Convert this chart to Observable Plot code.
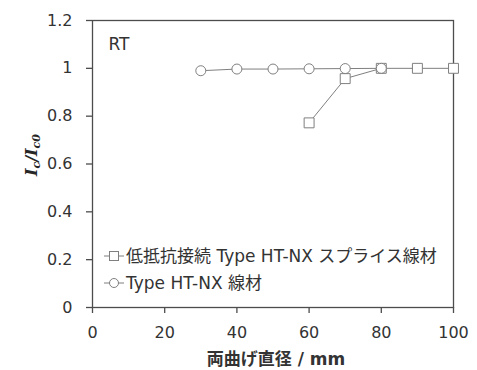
<!DOCTYPE html>
<html>
<head>
<meta charset="utf-8">
<script src="https://cdn.jsdelivr.net/npm/d3@7"></script>
<script src="https://cdn.jsdelivr.net/npm/@observablehq/plot@0.6"></script>
<style>
  html, body { margin: 0; padding: 0; background: #fff; }
  #chart { width: 477px; height: 370px; }
</style>
</head>
<body>
<div id="chart"></div>
<script>
// ---- data ----
const spliceDiam = [60, 70, 80, 90, 100];
const spliceIc = [0.772, 0.957, 1.0, 1.0, 1.0];
const wireDiam = [30, 40, 50, 60, 70, 80];
const wireIc = [0.99, 0.997, 0.997, 0.998, 0.999, 1.0];
const xTicks = [0, 20, 40, 60, 80, 100];
const yTicks = [0, 0.2, 0.4, 0.6, 0.8, 1, 1.2];
const seriesNames = ["低抵抗接続 Type HT-NX スプライス線材", "Type HT-NX 線材"];
const xTitle = "両曲げ直径 / mm";
const annotation = "RT";

const splice = spliceDiam.map((d, i) => ({x: d, y: spliceIc[i]}));
const wire = wireDiam.map((d, i) => ({x: d, y: wireIc[i]}));

const grey = "#7f7f7f";
const axisCol = "#4d4d4d";
const textCol = "#333333";
const font = "DejaVu Sans, Noto Sans CJK JP, sans-serif";

const plot = Plot.plot({
  width: 477,
  height: 370,
  marginLeft: 92,
  marginRight: 24,
  marginTop: 20,
  marginBottom: 63,
  x: {domain: [0, 100]},
  y: {domain: [0, 1.2]},
  style: {fontFamily: font, fontSize: "16px", color: textCol, background: "#fff"},
  marks: [
    Plot.frame({stroke: axisCol, strokeWidth: 1.3}),
    Plot.axisX({ticks: xTicks, tickSize: 6, tickPadding: 13, label: null, stroke: axisCol, strokeWidth: 1.3, fontSize: 16, fontFamily: font}),
    Plot.axisY({ticks: yTicks, tickSize: 6, tickPadding: 14, label: null, stroke: axisCol, strokeWidth: 1.3, fontSize: 16, fontFamily: font, tickFormat: d => String(d)}),
    Plot.lineY(splice, {x: "x", y: "y", stroke: grey, strokeWidth: 1}),
    Plot.dot(splice, {x: "x", y: "y", symbol: "square", r: 5.6, stroke: grey, fill: "#fff", strokeWidth: 1}),
    Plot.lineY(wire, {x: "x", y: "y", stroke: grey, strokeWidth: 1}),
    Plot.dot(wire, {x: "x", y: "y", symbol: "circle", r: 5, stroke: grey, fill: "#fff", strokeWidth: 1}),
    Plot.text([annotation], {frameAnchor: "top-left", lineAnchor: "middle", dx: 16, dy: 24, text: d => d, fontSize: 17, fontFamily: font, fill: textCol, textAnchor: "start"}),
    Plot.text([xTitle], {frameAnchor: "bottom", lineAnchor: "bottom", dx: 3, dy: 57, text: d => d, fontSize: 17, fontFamily: font, fontWeight: "bold", fill: textCol})
  ]
});
document.getElementById("chart").appendChild(plot);

// legend and y-axis title (rich text) added into the same SVG
const svg = d3.select(plot);
const lg = svg.append("g").attr("font-family", font).attr("font-size", 17).attr("fill", textCol).attr("text-anchor", "start");
const legendRows = [{name: seriesNames[0], sym: "square", y: 256}, {name: seriesNames[1], sym: "circle", y: 283}];
legendRows.forEach(r => {
  lg.append("line").attr("x1", 104).attr("x2", 124).attr("y1", r.y).attr("y2", r.y).attr("stroke", grey);
  if (r.sym === "square") {
    lg.append("rect").attr("x", 109.5).attr("y", r.y - 4.5).attr("width", 9).attr("height", 9).attr("fill", "#fff").attr("stroke", grey);
  } else {
    lg.append("circle").attr("cx", 114).attr("cy", r.y).attr("r", 4.5).attr("fill", "#fff").attr("stroke", grey);
  }
  lg.append("text").attr("x", 126).attr("y", r.y).attr("dy", "0.35em").attr("text-anchor", "start").text(r.name);
});

const yl = svg.append("text")
  .attr("transform", "translate(37,155) rotate(-90)")
  .attr("text-anchor", "middle")
  .attr("font-family", "DejaVu Serif, Liberation Serif, serif")
  .attr("font-weight", "bold")
  .attr("font-style", "italic")
  .attr("font-size", 16)
  .attr("fill", "#262626");
yl.append("tspan").text("I");
yl.append("tspan").attr("font-size", 11).attr("dy", 3).text("c");
yl.append("tspan").attr("dy", -3).text("/I");
yl.append("tspan").attr("font-size", 11).attr("dy", 3).text("c0");
</script>
</body>
</html>
